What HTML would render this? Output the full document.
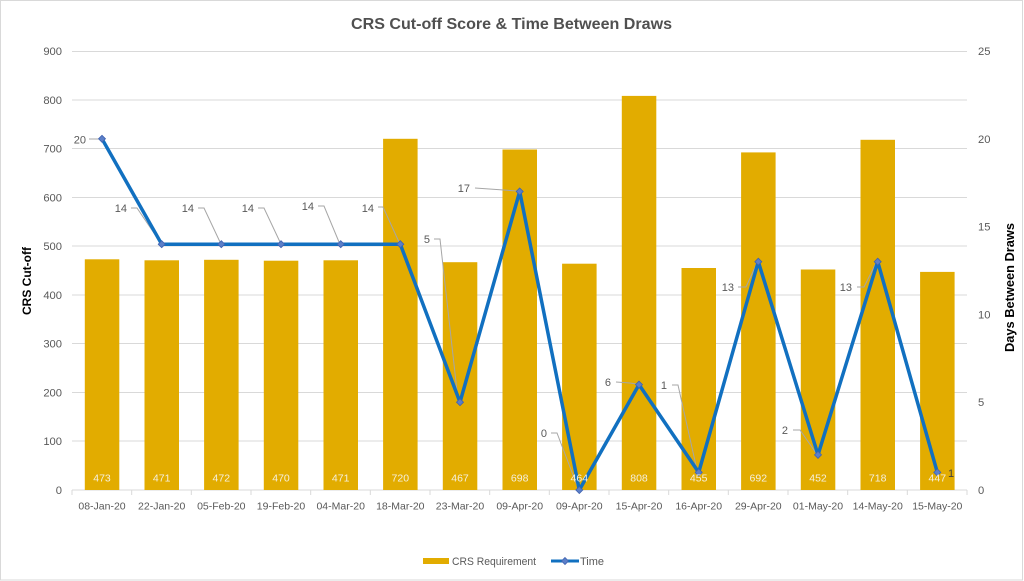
<!DOCTYPE html>
<html><head><meta charset="utf-8"><style>
html,body{margin:0;padding:0;background:#fff;}
svg{display:block;font-family:"Liberation Sans",sans-serif;}
</style></head><body>
<svg width="1024" height="581" viewBox="0 0 1024 581" xmlns="http://www.w3.org/2000/svg">
<rect x="0.5" y="0.5" width="1022" height="579.5" fill="#fff" stroke="#D9D9D9"/>
<text x="511.5" y="29" font-size="16" font-weight="bold" fill="#505050" text-anchor="middle" textLength="321" lengthAdjust="spacingAndGlyphs">CRS Cut-off Score &amp; Time Between Draws</text>
<g stroke="#D9D9D9" stroke-width="1">
<line x1="72" y1="51.5" x2="967" y2="51.5"/>
<line x1="72" y1="100" x2="967" y2="100"/>
<line x1="72" y1="148.5" x2="967" y2="148.5"/>
<line x1="72" y1="197.5" x2="967" y2="197.5"/>
<line x1="72" y1="246" x2="967" y2="246"/>
<line x1="72" y1="295" x2="967" y2="295"/>
<line x1="72" y1="343.5" x2="967" y2="343.5"/>
<line x1="72" y1="392.5" x2="967" y2="392.5"/>
<line x1="72" y1="441" x2="967" y2="441"/>
<line x1="72" y1="490" x2="967" y2="490"/>
<line x1="72" y1="490" x2="72" y2="495"/><line x1="131.7" y1="490" x2="131.7" y2="495"/><line x1="191.3" y1="490" x2="191.3" y2="495"/><line x1="251" y1="490" x2="251" y2="495"/><line x1="310.7" y1="490" x2="310.7" y2="495"/><line x1="370.3" y1="490" x2="370.3" y2="495"/><line x1="430" y1="490" x2="430" y2="495"/><line x1="489.7" y1="490" x2="489.7" y2="495"/><line x1="549.3" y1="490" x2="549.3" y2="495"/><line x1="609" y1="490" x2="609" y2="495"/><line x1="668.7" y1="490" x2="668.7" y2="495"/><line x1="728.3" y1="490" x2="728.3" y2="495"/><line x1="788" y1="490" x2="788" y2="495"/><line x1="847.7" y1="490" x2="847.7" y2="495"/><line x1="907.3" y1="490" x2="907.3" y2="495"/><line x1="967" y1="490" x2="967" y2="495"/>
</g>
<g font-size="11.2" fill="#595959" text-anchor="end">
<text x="62" y="55">900</text><text x="62" y="104">800</text><text x="62" y="152.5">700</text><text x="62" y="201.5">600</text><text x="62" y="250">500</text><text x="62" y="299">400</text><text x="62" y="347.5">300</text><text x="62" y="396.5">200</text><text x="62" y="445">100</text><text x="62" y="494">0</text>
</g>
<g font-size="11.2" fill="#595959" text-anchor="start">
<text x="978" y="55">25</text><text x="978" y="143">20</text><text x="978" y="230.5">15</text><text x="978" y="318.5">10</text><text x="978" y="406">5</text><text x="978" y="494">0</text>
</g>
<text transform="translate(31,281) rotate(-90)" font-size="12" font-weight="bold" fill="#000" text-anchor="middle" textLength="68" lengthAdjust="spacingAndGlyphs">CRS Cut-off</text>
<text transform="translate(1014,287.5) rotate(-90)" font-size="12.5" font-weight="bold" fill="#000" text-anchor="middle" textLength="129" lengthAdjust="spacingAndGlyphs">Days Between Draws</text>
<g fill="#E2AC00">
<rect x="84.8" y="259.3" width="34.5" height="230.7"/>
<rect x="144.5" y="260.3" width="34.5" height="229.7"/>
<rect x="204.1" y="259.8" width="34.5" height="230.2"/>
<rect x="263.8" y="260.7" width="34.5" height="229.3"/>
<rect x="323.5" y="260.3" width="34.5" height="229.7"/>
<rect x="383.1" y="138.8" width="34.5" height="351.2"/>
<rect x="442.8" y="262.2" width="34.5" height="227.8"/>
<rect x="502.5" y="149.5" width="34.5" height="340.5"/>
<rect x="562.1" y="263.7" width="34.5" height="226.3"/>
<rect x="621.8" y="95.9" width="34.5" height="394.1"/>
<rect x="681.5" y="268" width="34.5" height="222"/>
<rect x="741.1" y="152.4" width="34.5" height="337.6"/>
<rect x="800.8" y="269.5" width="34.5" height="220.5"/>
<rect x="860.5" y="139.8" width="34.5" height="350.2"/>
<rect x="920.1" y="271.9" width="34.5" height="218.1"/>
</g>
<g font-size="10.5" fill="#595959" text-anchor="middle">
<text x="102" y="509.5">08-Jan-20</text><text x="161.7" y="509.5">22-Jan-20</text><text x="221.3" y="509.5">05-Feb-20</text><text x="281" y="509.5">19-Feb-20</text><text x="340.7" y="509.5">04-Mar-20</text><text x="400.3" y="509.5">18-Mar-20</text><text x="460" y="509.5">23-Mar-20</text><text x="519.7" y="509.5">09-Apr-20</text><text x="579.3" y="509.5">09-Apr-20</text><text x="639" y="509.5">15-Apr-20</text><text x="698.7" y="509.5">16-Apr-20</text><text x="758.3" y="509.5">29-Apr-20</text><text x="818" y="509.5">01-May-20</text><text x="877.7" y="509.5">14-May-20</text><text x="937.3" y="509.5">15-May-20</text>
</g>
<g fill="none" stroke="#A6A6A6" stroke-width="1">
<polyline points="89,139 100,139"/>
<polyline points="131,208 137,208 160,242"/>
<polyline points="198,208 204,208 220,242"/>
<polyline points="258,208 264,208 280,242"/>
<polyline points="318,206 324,206 339,242"/>
<polyline points="378,207 383,207 399,242"/>
<polyline points="434,239 440,239 458,400"/>
<polyline points="475,188 517,191"/>
<polyline points="551,433 557,433 578,488"/>
<polyline points="616,382 630,383 637,384"/>
<polyline points="672,385 678,385 697,470"/>
<polyline points="738,287 746,287 757,263"/>
<polyline points="793,430 800,430 816,453"/>
<polyline points="857,287 864,287 876,263"/>
</g>
<polyline fill="none" stroke="#1170C0" stroke-width="3.5" stroke-linejoin="round" points="102,138.8 161.7,244.2 221.3,244.2 281,244.2 340.7,244.2 400.3,244.2 460,402.2 519.7,191.5 579.3,490 639,384.6 698.7,472.4 758.3,261.7 818,454.9 877.7,261.7 937.3,472.4"/>
<g fill="#5B7FC8" stroke="#3F62B0" stroke-width="0.8">
<path d="M102,135.3 L105.5,138.8 L102,142.3 L98.5,138.8Z"/>
<path d="M161.7,240.7 L165.2,244.2 L161.7,247.7 L158.2,244.2Z"/>
<path d="M221.3,240.7 L224.8,244.2 L221.3,247.7 L217.8,244.2Z"/>
<path d="M281,240.7 L284.5,244.2 L281,247.7 L277.5,244.2Z"/>
<path d="M340.7,240.7 L344.2,244.2 L340.7,247.7 L337.2,244.2Z"/>
<path d="M400.3,240.7 L403.8,244.2 L400.3,247.7 L396.8,244.2Z"/>
<path d="M460,398.7 L463.5,402.2 L460,405.7 L456.5,402.2Z"/>
<path d="M519.7,188 L523.2,191.5 L519.7,195 L516.2,191.5Z"/>
<path d="M579.3,486.5 L582.8,490 L579.3,493.5 L575.8,490Z"/>
<path d="M639,381.1 L642.5,384.6 L639,388.1 L635.5,384.6Z"/>
<path d="M698.7,468.9 L702.2,472.4 L698.7,475.9 L695.2,472.4Z"/>
<path d="M758.3,258.2 L761.8,261.7 L758.3,265.2 L754.8,261.7Z"/>
<path d="M818,451.4 L821.5,454.9 L818,458.4 L814.5,454.9Z"/>
<path d="M877.7,258.2 L881.2,261.7 L877.7,265.2 L874.2,261.7Z"/>
<path d="M937.3,468.9 L940.8,472.4 L937.3,475.9 L933.8,472.4Z"/>
</g>
<g font-size="10.5" fill="#F5EFDD" text-anchor="middle">
<text x="102" y="481.5">473</text><text x="161.7" y="481.5">471</text><text x="221.3" y="481.5">472</text><text x="281" y="481.5">470</text><text x="340.7" y="481.5">471</text><text x="400.3" y="481.5">720</text><text x="460" y="481.5">467</text><text x="519.7" y="481.5">698</text><text x="579.3" y="481.5">464</text><text x="639" y="481.5">808</text><text x="698.7" y="481.5">455</text><text x="758.3" y="481.5">692</text><text x="818" y="481.5">452</text><text x="877.7" y="481.5">718</text><text x="937.3" y="481.5">447</text>
</g>
<g font-size="11" fill="#595959" text-anchor="end">
<text x="86" y="143.5">20</text>
<text x="127" y="212">14</text>
<text x="194" y="212">14</text>
<text x="254" y="212">14</text>
<text x="314" y="210">14</text>
<text x="374" y="212">14</text>
<text x="430" y="243">5</text>
<text x="470" y="192">17</text>
<text x="547" y="437">0</text>
<text x="611" y="386">6</text>
<text x="667" y="389">1</text>
<text x="734" y="291">13</text>
<text x="788" y="434">2</text>
<text x="852" y="291">13</text>
</g>
<text x="948" y="477" font-size="11" fill="#404040">1</text>
<rect x="423" y="558" width="26" height="6" fill="#E2AC00"/>
<text x="452" y="565" font-size="11" fill="#595959" textLength="84" lengthAdjust="spacingAndGlyphs">CRS Requirement</text>
<line x1="551" y1="561" x2="579" y2="561" stroke="#1170C0" stroke-width="3"/>
<path d="M565,557.5 L568.5,561 L565,564.5 L561.5,561Z" fill="#5B7FC8" stroke="#3F62B0" stroke-width="0.8"/>
<text x="580" y="565" font-size="11" fill="#595959">Time</text>
</svg>
</body></html>
